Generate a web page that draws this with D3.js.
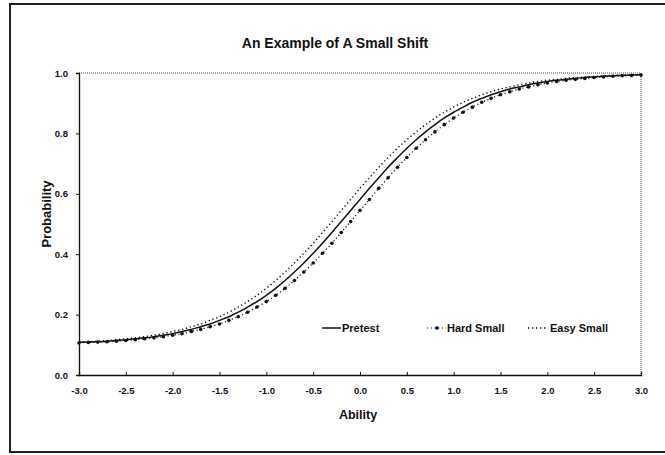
<!DOCTYPE html>
<html lang="en">
<head>
    <meta charset="UTF-8">
    <title>An Example of A Small Shift</title>
    <script src="https://d3js.org/d3.v7.min.js"></script>
    <style>
        body { margin: 0; background: #fff; }
        text { font-family: "Liberation Sans", Arial, sans-serif; font-weight: bold; fill: #111; }
        .tick text { font-size: 9.5px; }
        .axis path, .axis line { stroke: #111; }
    </style>
</head>
<body>
    <svg width="665" height="455"></svg>

    <script>
        // Data
        const ability = [
            -3.0, -2.9, -2.8, -2.7, -2.6, -2.5, -2.4, -2.3, -2.2, -2.1,
            -2.0, -1.9, -1.8, -1.7, -1.6, -1.5, -1.4, -1.3, -1.2, -1.1,
            -1.0, -0.9, -0.8, -0.7, -0.6, -0.5, -0.4, -0.3, -0.2, -0.1,
             0.0,  0.1,  0.2,  0.3,  0.4,  0.5,  0.6,  0.7,  0.8,  0.9,
             1.0,  1.1,  1.2,  1.3,  1.4,  1.5,  1.6,  1.7,  1.8,  1.9,
             2.0,  2.1,  2.2,  2.3,  2.4,  2.5,  2.6,  2.7,  2.8,  2.9,
             3.0
        ];
        const pretest = [
            .108, .109, .110, .112, .114, .117, .120, .123, .127, .132,
            .137, .144, .151, .160, .169, .181, .193, .208, .225, .243,
            .264, .287, .313, .341, .371, .403, .436, .472, .508, .545,
            .581, .618, .653, .688, .720, .751, .779, .805, .829, .851,
            .870, .887, .903, .916, .928, .938, .947, .954, .961, .967,
            .972, .976, .979, .982, .985, .987, .989, .991, .992, .993,
            .994
        ];
        const hardSmall = [
            .106, .108, .109, .110, .112, .114, .117, .120, .123, .127,
            .132, .137, .144, .151, .160, .169, .181, .193, .208, .225,
            .243, .264, .287, .313, .341, .371, .403, .436, .472, .508,
            .545, .581, .618, .653, .688, .720, .751, .779, .805, .829,
            .851, .870, .887, .903, .916, .928, .938, .947, .954, .961,
            .967, .972, .976, .979, .982, .985, .987, .989, .991, .992,
            .993
        ];
        const easySmall = [
            .109, .110, .112, .114, .117, .120, .123, .127, .132, .137,
            .144, .151, .160, .169, .181, .193, .208, .225, .243, .264,
            .287, .313, .341, .371, .403, .436, .472, .508, .545, .581,
            .618, .653, .688, .720, .751, .779, .805, .829, .851, .870,
            .887, .903, .916, .928, .938, .947, .954, .961, .967, .972,
            .976, .979, .982, .985, .987, .989, .991, .992, .993, .994,
            .995
        ];
        const xTicks = [-3.0, -2.5, -2.0, -1.5, -1.0, -0.5, 0.0, 0.5, 1.0, 1.5, 2.0, 2.5, 3.0];
        const yTicks = [0.0, 0.2, 0.4, 0.6, 0.8, 1.0];

        const svg = d3.select("svg");

        // outer frame (right side runs off the page like in the scan)
        svg.append("rect")
            .attr("x", 10).attr("y", 4)
            .attr("width", 680).attr("height", 448)
            .attr("fill", "none")
            .attr("stroke", "#222")
            .attr("stroke-width", 2);

        const margin = { top: 73, right: 24, bottom: 80, left: 79 },
            width = 665 - margin.left - margin.right,
            height = 455 - margin.top - margin.bottom,
            g = svg.append("g").attr("transform", "translate(" + margin.left + "," + margin.top + ")");

        const x = d3.scaleLinear().domain([-3, 3]).range([0, width]);
        const y = d3.scaleLinear().domain([0, 1]).range([height, 0]);

        // dotted plot-area border (top and right)
        g.append("path")
            .attr("d", "M0,0H" + width + "V" + height)
            .attr("fill", "none")
            .attr("stroke", "#444")
            .attr("stroke-width", 1)
            .attr("stroke-dasharray", "1,1");

        // axes
        g.append("g")
            .attr("class", "axis")
            .attr("transform", "translate(0," + height + ")")
            .call(d3.axisBottom(x).tickValues(xTicks).tickSize(-3).tickPadding(12)
                .tickFormat(d => d.toFixed(1)))
            .call(a => a.select(".domain").attr("stroke-width", 1.3));

        g.append("g")
            .attr("class", "axis")
            .call(d3.axisLeft(y).tickValues(yTicks).tickSize(3).tickPadding(8)
                .tickFormat(d => d.toFixed(1)))
            .call(a => a.select(".domain").attr("stroke-width", 1.3));

        const rows = ability.map((a, i) => ({ a: a, pre: pretest[i], hard: hardSmall[i], easy: easySmall[i] }));
        const line = key => d3.line().x(d => x(d.a)).y(d => y(d[key])).curve(d3.curveMonotoneX);

        // Easy Small
        g.append("path")
            .datum(rows)
            .attr("fill", "none")
            .attr("stroke", "#111")
            .attr("stroke-width", 1.4)
            .attr("stroke-dasharray", "1.3,2.7")
            .attr("d", line("easy"));

        // Hard Small
        g.append("path")
            .datum(rows)
            .attr("fill", "none")
            .attr("stroke", "#111")
            .attr("stroke-width", 1.2)
            .attr("stroke-dasharray", "1.2,2.5")
            .attr("d", line("hard"));

        g.selectAll(".hard-dot")
            .data(rows)
            .enter().append("circle")
            .attr("class", "hard-dot")
            .attr("cx", d => x(d.a))
            .attr("cy", d => y(d.hard))
            .attr("r", 1.8)
            .attr("fill", "#111");

        // Pretest
        g.append("path")
            .datum(rows)
            .attr("fill", "none")
            .attr("stroke", "#111")
            .attr("stroke-width", 1.5)
            .attr("d", line("pre"));

        // Title
        svg.append("text")
            .attr("x", 335)
            .attr("y", 48)
            .attr("text-anchor", "middle")
            .style("font-size", "14px")
            .text("An Example of A Small Shift");

        // axis labels
        svg.append("text")
            .attr("x", 358)
            .attr("y", 419)
            .attr("text-anchor", "middle")
            .style("font-size", "12.5px")
            .text("Ability");

        svg.append("text")
            .attr("transform", "translate(51,214) rotate(-90)")
            .attr("text-anchor", "middle")
            .style("font-size", "13px")
            .text("Probability");

        // Legend
        const legY = 328;
        const leg = svg.append("g");

        leg.append("line")
            .attr("x1", 322).attr("x2", 341).attr("y1", legY).attr("y2", legY)
            .attr("stroke", "#111").attr("stroke-width", 1.5);
        leg.append("text").attr("x", 342).attr("y", legY + 4)
            .style("font-size", "11px").text("Pretest");

        leg.append("line")
            .attr("x1", 427).attr("x2", 446).attr("y1", legY).attr("y2", legY)
            .attr("stroke", "#111").attr("stroke-width", 1.2)
            .attr("stroke-dasharray", "1.2,2.5");
        leg.append("circle")
            .attr("cx", 437).attr("cy", legY).attr("r", 1.8).attr("fill", "#111");
        leg.append("text").attr("x", 447).attr("y", legY + 4)
            .style("font-size", "11px").text("Hard Small");

        leg.append("line")
            .attr("x1", 528).attr("x2", 546).attr("y1", legY).attr("y2", legY)
            .attr("stroke", "#111").attr("stroke-width", 1.4)
            .attr("stroke-dasharray", "1.3,2.7");
        leg.append("text").attr("x", 550).attr("y", legY + 4)
            .style("font-size", "11px").text("Easy Small");
    </script>
</body>
</html>
